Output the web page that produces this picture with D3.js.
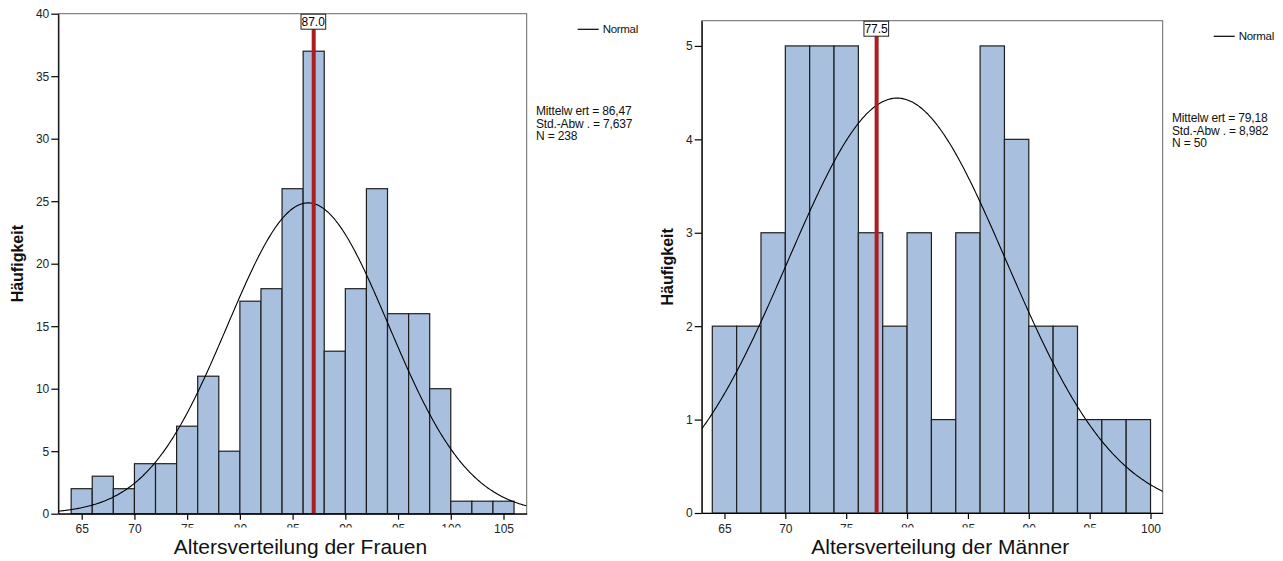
<!DOCTYPE html>
<html>
<head>
<meta charset="utf-8">
<script src="https://cdn.jsdelivr.net/npm/d3@7"></script>
<style>
  body { margin: 0; background: #fff; }
  svg { display: block; font-family: "Liberation Sans", Arial, sans-serif; }
</style>
</head>
<body>
<div class="chart"></div>
<script>
// Frauen (women)
var frauenBins = [64, 66, 68, 70, 72, 74, 76, 78, 80, 82, 84, 86, 88, 90, 92, 94, 96, 98, 100, 102, 104];
var frauenCounts = [2, 3, 2, 4, 4, 7, 11, 5, 17, 18, 26, 37, 13, 18, 26, 16, 16, 10, 1, 1, 1];
var frauenStats = { mean: 86.47, sd: 7.637, n: 238, median: 87.0 };
var frauenXTicks = [65, 70, 75, 80, 85, 90, 95, 100, 105];
var frauenYTicks = [0, 5, 10, 15, 20, 25, 30, 35, 40];

// Männer (men)
var maennerBins = [64, 66, 68, 70, 72, 74, 76, 78, 80, 82, 84, 86, 88, 90, 92, 94, 96, 98];
var maennerCounts = [2, 2, 3, 5, 5, 5, 3, 2, 3, 1, 3, 5, 4, 2, 2, 1, 1, 1];
var maennerStats = { mean: 79.18, sd: 8.982, n: 50, median: 77.5 };
var maennerXTicks = [65, 70, 75, 80, 85, 90, 95, 100];
var maennerYTicks = [0, 1, 2, 3, 4, 5];

var binWidth = 2;

var svg = d3.select('.chart')
    .append('svg')
    .attr('width', 1283)
    .attr('height', 561);

/**
 * Draw one SPSS style histogram
 */
function drawHist(cfg) {
    var p = cfg.plot;
    var x = d3.scaleLinear().domain(cfg.xDomain).range([p.x0, p.x1]);
    var y = d3.scaleLinear().domain(cfg.yDomain).range([p.y1, p.y0]);
    var g = svg.append('g');

    // frame
    g.append('rect')
        .attr('x', p.x0).attr('y', p.y0)
        .attr('width', p.x1 - p.x0).attr('height', p.y1 - p.y0)
        .style('fill', 'none')
        .style('stroke', '#666')
        .style('stroke-width', 1);

    var clipId = 'clip-' + cfg.id;
    g.append('clipPath').attr('id', 'plot-' + clipId)
        .append('rect')
        .attr('x', p.x0).attr('y', p.y0)
        .attr('width', p.x1 - p.x0).attr('height', p.y1 - p.y0);

    // bars
    g.selectAll('.bar')
        .data(cfg.bins.map((b, i) => ({ x0: b, count: cfg.counts[i] })))
        .enter()
        .append('rect')
        .attr('class', 'bar')
        .attr('x', d => x(d.x0))
        .attr('y', d => y(d.count))
        .attr('width', d => x(d.x0 + binWidth) - x(d.x0))
        .attr('height', d => y(0) - y(d.count))
        .style('fill', '#a8bfde')
        .style('stroke', '#1e1e1e')
        .style('stroke-width', 1.2);

    // normal curve from mean / sd
    var s = cfg.stats;
    var scale = s.n * binWidth / (s.sd * Math.sqrt(2 * Math.PI));
    var xs = d3.range(cfg.xDomain[0], cfg.xDomain[1] + 0.05, 0.1);
    var line = d3.line()
        .x(v => x(v))
        .y(v => y(scale * Math.exp(-0.5 * Math.pow((v - s.mean) / s.sd, 2))));
    g.append('path')
        .datum(xs)
        .attr('d', line)
        .attr('clip-path', 'url(#plot-' + clipId + ')')
        .style('fill', 'none')
        .style('stroke', '#000')
        .style('stroke-width', 1.1);

    // median reference line + label
    g.append('line')
        .attr('x1', x(s.median)).attr('x2', x(s.median))
        .attr('y1', p.y0 + 15).attr('y2', p.y1)
        .style('stroke', '#ad1c21')
        .style('stroke-width', 4);

    var lab = g.append('g');
    var labText = lab.append('text')
        .attr('x', x(s.median) - 0.5)
        .attr('y', p.y0 + 12.3)
        .style('text-anchor', 'middle')
        .style('font-size', '12px')
        .style('fill', '#000')
        .text(d3.format('.1f')(s.median));
    var bb = labText.node().getBBox();
    lab.insert('rect', 'text')
        .attr('x', bb.x - 0.5).attr('y', p.y0 + 0.5)
        .attr('width', bb.width + 1).attr('height', 15)
        .style('fill', '#fff')
        .style('stroke', '#222')
        .style('stroke-width', 1);

    // y axis
    var yAxis = d3.axisLeft(y)
        .tickValues(cfg.yTicks)
        .tickFormat(d3.format('d'))
        .tickSize(7).tickPadding(2).tickSizeOuter(0);
    var ya = g.append('g')
        .attr('transform', `translate(${p.x0}, 0)`)
        .call(yAxis);
    ya.selectAll('text').style('font-size', '12px').style('fill', '#222').style('font-family', 'Liberation Sans');
    ya.selectAll('line, path').style('stroke', '#000').style('stroke-width', 1.2);

    // x axis
    var xAxis = d3.axisBottom(x)
        .tickValues(cfg.xTicks)
        .tickFormat(d3.format('d'))
        .tickSize(6).tickPadding(5).tickSizeOuter(0);
    var xa = g.append('g')
        .attr('transform', `translate(0, ${p.y1})`)
        .call(xAxis);
    xa.selectAll('text').style('font-size', '12px').style('fill', '#222').style('font-family', 'Liberation Sans');
    xa.selectAll('line, path').style('stroke', '#000').style('stroke-width', 1.2);

    // some tick labels are cut off in the original export
    xa.append('clipPath').attr('id', 'lbl-' + clipId)
        .append('rect')
        .attr('x', -30).attr('y', 0)
        .attr('width', 60).attr('height', 527.5 - p.y1);
    xa.selectAll('.tick')
        .filter(d => cfg.cutTicks.indexOf(d) >= 0)
        .select('text')
        .attr('clip-path', 'url(#lbl-' + clipId + ')');

    // axis titles
    g.append('text')
        .attr('x', (p.x0 + p.x1) / 2 + 8)
        .attr('y', 554)
        .style('text-anchor', 'middle')
        .style('font-size', '21px')
        .style('fill', '#111')
        .text(cfg.xTitle);

    g.append('text')
        .attr('transform', `translate(${cfg.yTitleX}, ${(p.y0 + p.y1) / 2}) rotate(-90)`)
        .style('text-anchor', 'middle')
        .style('font-size', '16px')
        .style('font-weight', 'bold')
        .style('fill', '#111')
        .text('Häufigkeit');

    // legend
    var ly = p.y0 + 15.6;
    g.append('line')
        .attr('x1', p.x1 + 51).attr('x2', p.x1 + 72)
        .attr('y1', ly).attr('y2', ly)
        .style('stroke', '#000').style('stroke-width', 1.2);
    g.append('text')
        .attr('x', p.x1 + 76).attr('y', ly + 4)
        .style('font-size', '11.5px')
        .style('letter-spacing', '-0.3px')
        .style('fill', '#111')
        .text('Normal');

    // stats block
    var statLines = [
        'Mittelw ert = ' + d3.format('.2f')(s.mean).replace('.', ','),
        'Std.-Abw . = ' + d3.format('.3f')(s.sd).replace('.', ','),
        'N = ' + s.n
    ];
    g.selectAll('.stat')
        .data(statLines)
        .enter()
        .append('text')
        .attr('class', 'stat')
        .attr('x', p.x1 + 9.3)
        .attr('y', (d, i) => p.y0 + 101.5 + i * 12.5)
        .style('font-size', '12px')
        .style('letter-spacing', '-0.15px')
        .style('fill', '#111')
        .text(d => d);
}

drawHist({
    id: 'frauen',
    plot: { x0: 58.3, x1: 526.7, y0: 13.7, y1: 513.7 },
    xDomain: [62.78, 107.2],
    yDomain: [0, 40],
    bins: frauenBins,
    counts: frauenCounts,
    stats: frauenStats,
    xTicks: frauenXTicks,
    yTicks: frauenYTicks,
    cutTicks: [75, 80, 85, 90, 95, 100],
    xTitle: 'Altersverteilung der Frauen',
    yTitleX: 23
});

drawHist({
    id: 'maenner',
    plot: { x0: 701.7, x1: 1162.7, y0: 20.7, y1: 513 },
    xDomain: [63.13, 101.0],
    yDomain: [0, 5.27],
    bins: maennerBins,
    counts: maennerCounts,
    stats: maennerStats,
    xTicks: maennerXTicks,
    yTicks: maennerYTicks,
    cutTicks: [75, 80, 85, 90, 95],
    xTitle: 'Altersverteilung der Männer',
    yTitleX: 673
});
</script>
</body>
</html>
